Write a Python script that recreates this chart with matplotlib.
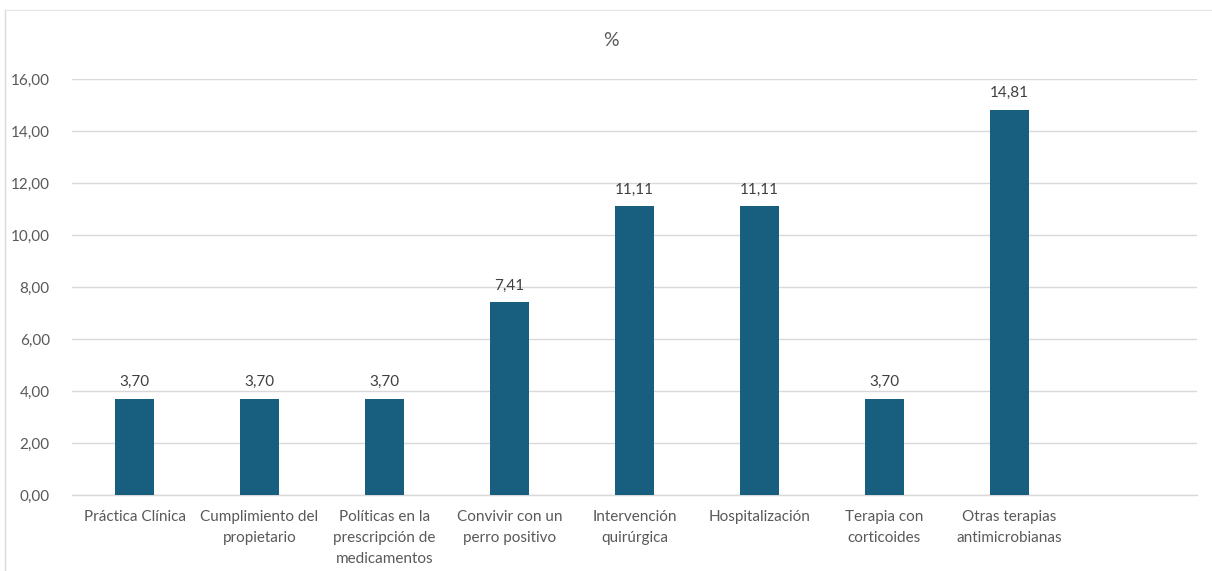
import matplotlib
matplotlib.use("Agg")
import matplotlib.pyplot as plt
from matplotlib.lines import Line2D
from matplotlib.ticker import MultipleLocator, FuncFormatter

categories = [
    "Práctica Clínica",
    "Cumplimiento del\npropietario",
    "Políticas en la\nprescripción de\nmedicamentos",
    "Convivir con un\nperro positivo",
    "Intervención\nquirúrgica",
    "Hospitalización",
    "Terapia con\ncorticoides",
    "Otras terapias\nantimicrobianas",
    "",
]
values = [3.70, 3.70, 3.70, 7.41, 11.11, 11.11, 3.70, 14.81, None]

plt.rcParams["font.family"] = ["Lato", "DejaVu Sans"]
text_color = "#595959"
bar_color = "#175e7f"
grid_color = "#d9d9d9"

W, H = 1212, 571
fig = plt.figure(figsize=(W / 100, H / 100), dpi=100)
ax = fig.add_axes([72 / W, 1 - 495 / H, (1197 - 72) / W, (495 - 79) / H])

xs = list(range(len(categories)))
bar_x = [x for x, v in zip(xs, values) if v is not None]
bar_v = [v for v in values if v is not None]
bars = ax.bar(bar_x, bar_v, width=0.31, color=bar_color, zorder=3)

for b, v in zip(bars, bar_v):
    ax.annotate(f"{v:.2f}".replace(".", ","),
                (b.get_x() + b.get_width() / 2, v),
                xytext=(0, 7), textcoords="offset points",
                ha="center", va="bottom", fontsize=11, color="#404040")

ax.set_xlim(-0.5, len(categories) - 0.5)
ax.set_ylim(0, 16)
ax.yaxis.set_major_locator(MultipleLocator(2))
ax.yaxis.set_major_formatter(FuncFormatter(lambda y, _: f"{y:.2f}".replace(".", ",")))
ax.grid(axis="y", color=grid_color, linewidth=1, zorder=0)
ax.set_xticks(xs)
ax.set_xticklabels(categories, fontsize=11, color=text_color, linespacing=1.62, va="top")
ax.tick_params(axis="x", length=0, pad=11)
ax.tick_params(axis="y", length=0, pad=16, labelsize=11, labelcolor=text_color)
for s in ["top", "right", "left"]:
    ax.spines[s].set_visible(False)
ax.spines["bottom"].set_color(grid_color)
ax.spines["bottom"].set_linewidth(1)

fig.text(611 / W, 1 - 40 / H, "%", ha="center", va="center", fontsize=14, color=text_color)

# light chart-area border on the left and top
fig.add_artist(Line2D([5 / W, 5 / W], [0, 1 - 10 / H], color="#d9d9d9", linewidth=1))
fig.add_artist(Line2D([5 / W, 1], [1 - 10 / H, 1 - 10 / H], color="#e6e6e6", linewidth=1))

fig.savefig("out.png", dpi=100)
